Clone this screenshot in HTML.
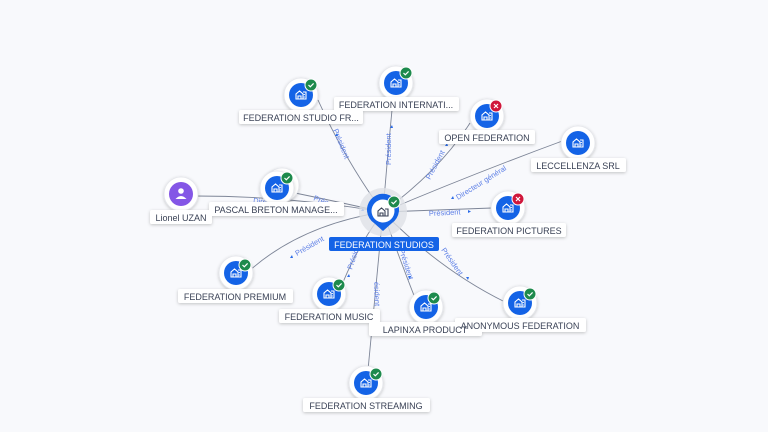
<!DOCTYPE html>
<html><head><meta charset="utf-8"><style>
html,body{margin:0;padding:0;background:#f8f9fc;}
svg{display:block}
.lbl{font-family:"Liberation Sans",sans-serif;font-size:9px;fill:#3a4256;text-anchor:middle;}
.el{font-family:"Liberation Sans",sans-serif;font-size:7.5px;fill:#5d7fe6;}
.ln{fill:none;stroke:#7d8597;stroke-width:0.9;}
</style></head><body>
<svg width="768" height="432" viewBox="0 0 768 432" xmlns="http://www.w3.org/2000/svg">
<defs>
<filter id="sh" x="-30%" y="-30%" width="160%" height="160%"><feDropShadow dx="0" dy="1" stdDeviation="1.5" flood-color="#000" flood-opacity="0.22"/></filter>
<g id="bld"><path d="M-5 4 V-1 L-1.5 -4 L2 -1 V4 Z M-3 4 V1 H0 V4 M2 -3 H5 V4 H2 M3.3 -1 V0 M3.3 1.5 V2.5" fill="none" stroke="#fff" stroke-width="1.1"/></g>
<g id="node"><circle r="17" fill="#fff" stroke="#e3e5ea" stroke-width="0.8" filter="url(#sh)"/><circle r="12" fill="#1463e6"/><use href="#bld"/></g>
<g id="ok"><circle r="6" fill="#1d8a4c" stroke="#fff" stroke-width="1"/><path d="M-2.5 0 L-0.7 1.8 L2.6 -1.6" fill="none" stroke="#fff" stroke-width="1.2"/></g>
<g id="ko"><circle r="6" fill="#d0173b" stroke="#fff" stroke-width="1"/><path d="M-2 -2 L2 2 M2 -2 L-2 2" stroke="#fff" stroke-width="1.2"/></g>
</defs>

<path class="ln" d="M383 212 Q345 160 318 100"/>
<path class="ln" d="M383 212 Q388 150 393 100"/>
<path class="ln" d="M383 212 Q440 170 470 123"/>
<path class="ln" d="M383 212 Q470 175 565 140"/>
<path class="ln" d="M383 212 Q440 210 492 208"/>
<path class="ln" d="M383 212 Q330 200 290 192"/>
<path class="ln" d="M383 212 Q290 196 196 196"/>
<path class="ln" d="M383 212 Q300 225 248 272"/>
<path class="ln" d="M383 212 Q355 250 340 290"/>
<path class="ln" d="M383 212 Q375 300 368 370"/>
<path class="ln" d="M383 212 Q400 260 415 298"/>
<path class="ln" d="M383 212 Q440 270 505 302"/>

<text class="el" transform="translate(333,130) rotate(68)">Président</text>
<text class="el" transform="translate(391,165) rotate(-90)">Président</text>
<text class="el" transform="translate(430,180) rotate(-62)">Président</text>
<text class="el" transform="translate(458,200) rotate(-32)">Directeur général</text>
<text class="el" transform="translate(429,216) rotate(-3)">Président</text>
<text class="el" transform="translate(313,200) rotate(20)">Prés</text>
<text class="el" transform="translate(253,203) rotate(5)">Dire</text>
<text class="el" transform="translate(297,256) rotate(-30)">Président</text>
<text class="el" transform="translate(352,270) rotate(-72)">Préside</text>
<text class="el" transform="translate(374,282) rotate(88)">ésident</text>
<text class="el" transform="translate(399,250) rotate(72)">Président</text>
<text class="el" transform="translate(441,250) rotate(55)">Président</text>

<g fill="#2a6be8">
<path d="M335 136 l2 -3 l1 3z"/><path d="M390 128 l2 -3 l1 3z"/><path d="M445 146 l2 -3 l1 3z"/>
<path d="M451 199 l2 -3 l1 3z"/><path d="M468 210 l3 1.5 l-3 1.5z"/><path d="M361 211 l2 -3 l1 3z"/>
<path d="M290 258 l2 -3 l1 3z"/><path d="M347 277 l2 -3 l1 3z"/><path d="M408 276 l2 3 l1 -3z"/><path d="M466 277 l2 3 l1 -3z"/>
</g>

<use href="#node" x="301" y="95"/><use href="#ok" x="311" y="85"/>
<use href="#node" x="396" y="83"/><use href="#ok" x="406" y="73"/>
<use href="#node" x="487" y="116"/><use href="#ko" x="496" y="106"/>
<use href="#node" x="578" y="143"/>
<use href="#node" x="508" y="208"/><use href="#ko" x="518" y="199"/>
<circle cx="282" cy="185" r="17" fill="#fff" stroke="#e3e5ea" stroke-width="0.8" filter="url(#sh)"/>
<use href="#node" x="277" y="188"/><use href="#ok" x="287" y="178"/>
<circle cx="181" cy="194" r="17" fill="#fff" stroke="#e3e5ea" stroke-width="0.8" filter="url(#sh)"/><circle cx="181" cy="194" r="12" fill="#8456e6"/>
<circle cx="181" cy="191" r="2.8" fill="#fff"/><path d="M175.5 199 Q181 193 186.5 199 Z" fill="#fff"/>
<use href="#node" x="236" y="273"/><use href="#ok" x="245" y="265"/>
<use href="#node" x="329" y="294"/><use href="#ok" x="339" y="285"/>
<use href="#node" x="426" y="307"/><use href="#ok" x="434" y="298"/>
<use href="#node" x="520" y="303"/><use href="#ok" x="530" y="294"/>
<use href="#node" x="366" y="383"/><use href="#ok" x="376" y="374"/>

<circle cx="383" cy="212" r="24" fill="#dfe1e6" opacity="0.8"/>
<path d="M383 231 L374 223 A16 16 0 1 1 392 223 Z" fill="#1463e6"/>
<circle cx="383" cy="211" r="11.5" fill="#fff"/>
<g transform="translate(383,212)"><path d="M-5 4 V-1 L-1.5 -4 L2 -1 V4 Z M-3 4 V1 H0 V4 M2 -3 H5 V4 H2" fill="none" stroke="#3a4256" stroke-width="1.1"/></g>
<use href="#ok" x="394" y="202"/>

<g filter="url(#sh)" fill="#fff">
<rect x="239" y="110" width="124" height="14" rx="2"/>
<rect x="334" y="97" width="125" height="14" rx="2"/>
<rect x="439" y="130" width="96" height="14" rx="2"/>
<rect x="531" y="158" width="95" height="14" rx="2"/>
<rect x="452" y="223" width="114" height="14" rx="2"/>
<rect x="209" y="202" width="135" height="14" rx="2"/>
<rect x="150" y="210" width="62" height="14" rx="2"/>
<rect x="178" y="289" width="115" height="14" rx="2"/>
<rect x="279" y="309" width="101" height="14" rx="2"/>
<rect x="369" y="322" width="113" height="14" rx="2"/>
<rect x="455" y="318" width="131" height="14" rx="2"/>
<rect x="303" y="398" width="127" height="14" rx="2"/>
</g>
<rect x="329" y="237" width="110" height="14" rx="2" fill="#1463e6"/>
<text class="lbl" x="301" y="121">FEDERATION STUDIO FR...</text>
<text class="lbl" x="396" y="108">FEDERATION INTERNATI...</text>
<text class="lbl" x="487" y="141">OPEN FEDERATION</text>
<text class="lbl" x="578" y="169">LECCELLENZA SRL</text>
<text class="lbl" x="509" y="234">FEDERATION PICTURES</text>
<text class="lbl" x="276" y="213">PASCAL BRETON MANAGE...</text>
<text class="lbl" x="181" y="221">Lionel UZAN</text>
<text class="lbl" x="235" y="300">FEDERATION PREMIUM</text>
<text class="lbl" x="329" y="320">FEDERATION MUSIC</text>
<text class="lbl" x="425" y="333">LAPINXA PRODUCT</text>
<text class="lbl" x="520" y="329">ANONYMOUS FEDERATION</text>
<text class="lbl" x="366" y="409">FEDERATION STREAMING</text>
<text class="lbl" x="384" y="248" style="fill:#fff">FEDERATION STUDIOS</text>
</svg>
</body></html>
